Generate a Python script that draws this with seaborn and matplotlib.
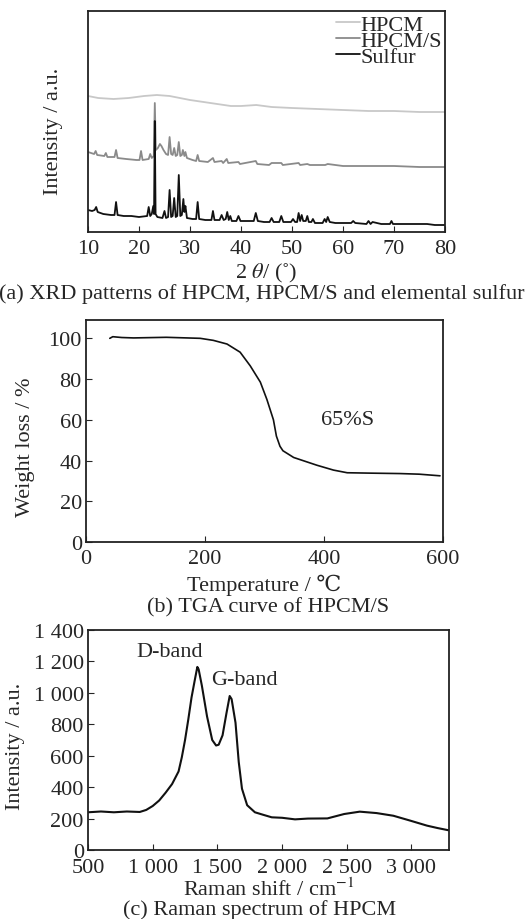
import seaborn as sns
import matplotlib.pyplot as plt
import matplotlib.ticker as mticker
import pandas as pd

# ---- (a) XRD: 2theta (deg) and relative intensity (a.u.) ----
hpcm_x = [10, 12, 15, 18, 21, 23.5, 26, 30, 34, 38, 40, 43, 46, 50, 55, 60, 65, 70, 75, 80]
hpcm_y = [136, 134, 133, 134, 136, 137, 136, 132, 129, 126, 126, 127, 125, 124, 123, 122, 121, 121, 120, 120]

hpcms_x = [10, 11.2, 11.5, 11.8, 13.2, 13.5, 13.8, 15.2, 15.5, 15.8,
           17.5, 19.5, 20.1, 20.4, 20.7, 21.9, 22.2, 22.5, 22.9, 23.1,
           23.3, 23.7, 24.1, 24.4, 24.8, 25.3, 25.7, 26.0, 26.3, 26.6,
           26.9, 27.2, 27.5, 27.8, 28.1, 28.4, 28.6, 28.9, 29.1, 29.4,
           30.5, 31.2, 31.5, 31.8, 33.5, 34.5, 34.8, 36.2, 36.5, 37.2,
           37.5, 39.5, 39.8, 42.9, 43.2, 45.5, 46.0, 47.9, 48.2, 51.3,
           51.6, 53.0, 53.5, 56.5, 57.0, 60, 65, 70, 75, 80]
hpcms_y = [80, 78, 81, 77, 76, 79, 75, 75, 82, 74,
           73, 72, 72, 81, 72, 73, 78, 74, 76, 129,
           82, 84, 88, 86, 82, 78, 77, 95, 78, 77,
           84, 76, 77, 90, 76, 77, 82, 76, 80, 74,
           72, 71, 77, 71, 70, 74, 70, 71, 69, 73,
           69, 70, 68, 71, 68, 67, 69, 69, 67, 69,
           67, 68, 67, 67, 68, 66, 66, 66, 65, 65]

sulfur_x = [10, 10.8, 11.3, 11.6, 11.9, 13.0, 14.5, 15.2, 15.5, 15.8,
            17.0, 18.5, 20.0, 21.6, 21.9, 22.2, 22.5, 22.8, 22.95, 23.1,
            23.25, 23.6, 24.6, 25.0, 25.3, 25.7, 26.0, 26.3, 26.6, 26.9,
            27.2, 27.5, 27.8, 28.1, 28.4, 28.7, 28.9, 29.1, 29.4, 30.5,
            31.2, 31.5, 31.8, 33.0, 34.2, 34.5, 34.8, 35.8, 36.2, 36.6,
            37.0, 37.3, 37.6, 37.9, 38.2, 39.1, 39.5, 39.9, 41.0, 42.5,
            42.9, 43.3, 44.5, 45.6, 46.0, 46.4, 47.5, 47.9, 48.3, 49.8,
            50.2, 50.6, 51.0, 51.3, 51.6, 51.9, 52.2, 52.7, 53.0, 53.3,
            53.8, 54.1, 54.5, 56.0, 56.4, 56.7, 57.0, 57.4, 58.5, 60.0,
            61.6, 62.0, 62.4, 64.6, 65.0, 65.4, 65.8, 67.5, 69.2, 69.5,
            69.8, 72.0, 74.0, 76.5, 78.0, 80.0]
sulfur_y = [22, 21, 22, 25, 20, 18, 17, 17, 30, 17,
            16, 16, 15, 16, 25, 16, 18, 26, 18, 111,
            18, 15, 14, 21, 14, 15, 42, 15, 16, 34,
            15, 16, 57, 16, 17, 33, 20, 26, 14, 13,
            13, 30, 13, 12, 12, 21, 12, 12, 17, 12,
            13, 20, 12, 16, 11, 11, 16, 11, 11, 11,
            19, 11, 10, 10, 14, 10, 10, 16, 10, 10,
            13, 10, 10, 19, 11, 17, 11, 11, 16, 10,
            10, 13, 9, 9, 13, 10, 15, 10, 9, 9,
            9, 11, 9, 8, 11, 8, 10, 8, 8, 11,
            8, 8, 8, 8, 7, 7]

xrd_series = ["HPCM", "HPCM/S", "Sulfur"]
xrd_colors = ["#c8c8c8", "#8a8a8a", "#111111"]
xrd_ticks = [10, 20, 30, 40, 50, 60, 70, 80]

# ---- (b) TGA ----
tga_T = [40, 45, 60, 80, 135, 192, 214, 237, 259, 276, 293, 304, 315, 320, 326, 331,
         349, 388, 416, 439, 480, 528, 560, 595]
tga_W = [100.0, 100.8, 100.4, 100.2, 100.5, 100.0, 99.0, 97.2, 93.2, 86.5, 78.5, 70.0,
         60.0, 52.0, 47.0, 44.8, 41.5, 37.7, 35.3, 34.0, 33.8, 33.6, 33.3, 32.5]
tga_ticks_x = [0, 200, 400, 600]
tga_ticks_y = [0, 20, 40, 60, 80, 100]

# ---- (c) Raman ----
raman_x = [500, 600, 700, 800, 900, 950, 1000, 1050, 1100, 1150,
           1200, 1225, 1250, 1275, 1300, 1325, 1345, 1355, 1380, 1420,
           1460, 1490, 1510, 1540, 1570, 1595, 1610, 1640, 1665, 1690,
           1730, 1790, 1850, 1920, 2000, 2100, 2200, 2350, 2480, 2600,
           2730, 2860, 2990, 3120, 3200, 3290]
raman_y = [240, 245, 240, 245, 242, 255, 280, 315, 365, 420,
           500, 590, 700, 830, 970, 1080, 1165, 1150, 1046, 850,
           700, 665, 670, 730, 870, 980, 960, 810, 560, 390,
           285, 240, 225, 208, 205, 195, 200, 201, 229, 244,
           235, 218, 187, 155, 140, 125]
raman_ticks_x = [500, 1000, 1500, 2000, 2500, 3000]
raman_ticks_y = [0, 200, 400, 600, 800, 1000, 1200, 1400]

sns.set_style("ticks")
plt.rcParams['font.family'] = ['Liberation Serif', 'DejaVu Serif']
plt.rcParams['mathtext.fontset'] = 'stix'
plt.rcParams['font.size'] = 16
plt.rcParams['axes.linewidth'] = 1.3
plt.rcParams['axes.edgecolor'] = '#222222'
plt.rcParams['xtick.direction'] = 'in'
plt.rcParams['ytick.direction'] = 'in'
plt.rcParams['xtick.major.size'] = 4
plt.rcParams['ytick.major.size'] = 4

W, H = 527, 920
fig = plt.figure(figsize=(W / 100, H / 100), dpi=100)


def box(l, t, r, b):
    return [l / W, (H - b) / H, (r - l) / W, (b - t) / H]


def spaced(v, pos):
    return f"{v:,.0f}".replace(",", " ")


# (a) XRD
ax1 = fig.add_axes(box(88, 12, 445, 233))
xrd = pd.concat([
    pd.DataFrame({"two_theta": hpcm_x, "I": hpcm_y, "sample": "HPCM"}),
    pd.DataFrame({"two_theta": hpcms_x, "I": hpcms_y, "sample": "HPCM/S"}),
    pd.DataFrame({"two_theta": sulfur_x, "I": sulfur_y, "sample": "Sulfur"}),
])
sns.lineplot(ax=ax1, data=xrd, x="two_theta", y="I", hue="sample",
             hue_order=xrd_series, palette=dict(zip(xrd_series, xrd_colors)),
             linewidth=1.3, sort=False, estimator=None)
ax1.set_xlim(10, 80)
ax1.set_ylim(0, 221)
ax1.set_xticks(xrd_ticks)
ax1.set_yticks([])
ax1.tick_params(axis='x', pad=5)
ax1.set_xlabel(r"2 $\mathit{\theta}$/ (˚)", labelpad=2)
ax1.set_ylabel("Intensity / a.u.")
ax1.yaxis.set_label_coords(-0.07, 0.46)
leg = ax1.legend(loc="upper right", frameon=False, borderpad=0, borderaxespad=0.15,
                 handlelength=1.1, handletextpad=0.0, labelspacing=-0.2)
for t in leg.get_texts():
    t.set_fontsize(16)

# (b) TGA
ax2 = fig.add_axes(box(86, 321, 443, 543))
sns.lineplot(ax=ax2, x=tga_T, y=tga_W, color="#111111", linewidth=1.2, sort=False)
ax2.set_xlim(0, 600)
ax2.set_ylim(0, 109)
ax2.set_xticks(tga_ticks_x)
ax2.set_yticks(tga_ticks_y)
ax2.tick_params(axis='x', pad=5)
ax2.tick_params(axis='y', pad=3)
ax2.set_xlabel("Temperature / ℃", labelpad=4)
ax2.set_ylabel("Weight loss / %")
ax2.yaxis.set_label_coords(-0.143, 0.43)
ax2.text(440, 60, "65%S", ha="center", va="center")

# (c) Raman
ax3 = fig.add_axes(box(88, 631, 449, 851))
sns.lineplot(ax=ax3, x=raman_x, y=raman_y, color="#111111", linewidth=1.5, sort=False)
ax3.set_xlim(500, 3290)
ax3.set_ylim(0, 1400)
ax3.set_xticks(raman_ticks_x)
ax3.set_yticks(raman_ticks_y)
ax3.xaxis.set_major_formatter(mticker.FuncFormatter(spaced))
ax3.yaxis.set_major_formatter(mticker.FuncFormatter(spaced))
ax3.tick_params(axis='x', pad=6)
ax3.tick_params(axis='y', pad=3)
ax3.set_xlabel("Raman shift / cm$^{-1}$", labelpad=0)
ax3.set_ylabel("Intensity / a.u.")
ax3.yaxis.set_label_coords(-0.175, 0.477)
ax3.text(1127, 1266, "D-band", ha="center", va="center")
ax3.text(1707, 1088, "G-band", ha="center", va="center")

# captions
fig.text(262 / W, 1 - 294 / H, "(a) XRD patterns of HPCM, HPCM/S and elemental sulfur",
         ha="center", va="center")
fig.text(268 / W, 1 - 608 / H, "(b) TGA curve of HPCM/S", ha="center", va="center")
fig.text(260 / W, 1 - 910 / H, "(c) Raman spectrum of HPCM", ha="center", va="center")

fig.savefig("out.png", dpi=100, facecolor="white")
plt.close("all")
